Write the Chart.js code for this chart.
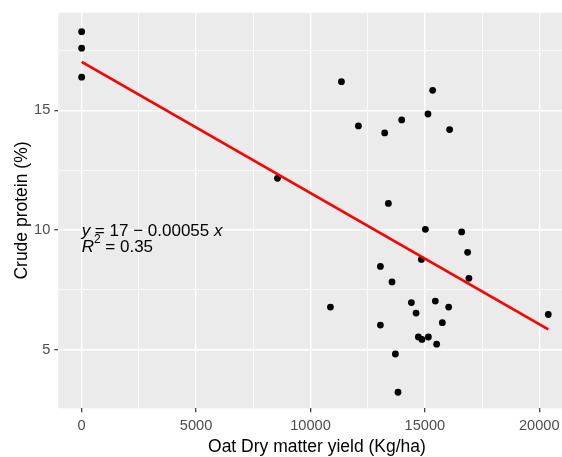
<!DOCTYPE html>
<html lang="en">
<head>
  <meta charset="UTF-8" />
  <title>Crude protein vs oat dry matter yield</title>
  <script src="https://cdn.jsdelivr.net/npm/chart.js"></script>
  <style>
    html, body { margin: 0; padding: 0; background: white; overflow: hidden; }
    .wrap { width: 562px; height: 457px; overflow: hidden; position: relative; }
    canvas { display: block; }
  </style>
</head>
<body>
  <div class="wrap">
    <canvas id="chart" width="578" height="457"></canvas>
  </div>
  <script>
    // Oat dry matter yield (Kg/ha) and crude protein (%)
    const yieldKgHa = [0, 0, 0, 8559, 11354, 15341, 12096, 13245, 13987, 15135, 16083,
      13406, 15022, 16607, 16869, 14847, 13057, 13564, 16926, 10873, 14410, 15458,
      16040, 14616, 15764, 13057, 20393, 14716, 14873, 15153, 15515, 13712, 13826];
    const crudeProtein = [18.29, 17.6, 16.39, 12.16, 16.2, 15.84, 14.35, 14.06, 14.6, 14.85, 14.2,
      11.11, 10.03, 9.92, 9.07, 8.77, 8.48, 7.83, 7.98, 6.78, 6.97, 7.03,
      6.78, 6.53, 6.13, 6.03, 6.47, 5.53, 5.43, 5.53, 5.23, 4.82, 3.22];

    // fitted line end points (lm)
    const fitX = [0, 20393];
    const fitY = [17.03, 5.85];

    const xGrid = [0, 2500, 5000, 7500, 10000, 12500, 15000, 17500, 20000];
    const xLabels = [0, 5000, 10000, 15000, 20000];
    const yGrid = [5, 7.5, 10, 12.5, 15, 17.5];
    const yLabels = [5, 10, 15];

    const points = yieldKgHa.map((x, i) => ({ x: x, y: crudeProtein[i] }));
    const fitLine = fitX.map((x, i) => ({ x: x, y: fitY[i] }));

    const FONT = "'Liberation Sans', Arial, sans-serif";

    const panelBg = {
      id: 'panelBg',
      beforeDraw(chart) {
        const a = chart.chartArea, c = chart.ctx;
        c.save();
        c.fillStyle = '#ebebeb';
        c.fillRect(a.left, a.top, a.right - a.left, a.bottom - a.top);
        c.restore();
      }
    };

    const labels = {
      id: 'labels',
      afterDraw(chart) {
        const a = chart.chartArea, c = chart.ctx;
        c.save();
        c.fillStyle = '#000';
        // axis titles
        c.font = '17.5px ' + FONT;
        c.textAlign = 'center';
        c.textBaseline = 'alphabetic';
        c.fillText('Oat Dry matter yield (Kg/ha)', (a.left + a.right) / 2 + 2, 451.5);
        c.save();
        c.translate(27, (a.top + a.bottom) / 2);
        c.rotate(-Math.PI / 2);
        c.fillText('Crude protein (%)', 0, 0);
        c.restore();

        // equation label
        c.textAlign = 'left';
        const x0 = chart.scales.x.getPixelForValue(0);
        let x = x0;
        const put = (txt, italic, size, dy) => {
          c.font = (italic ? 'italic ' : '') + (size || 17) + 'px ' + FONT;
          c.fillText(txt, x, 235.5 + (dy || 0));
          x += c.measureText(txt).width;
        };
        put('y', true);
        put(' = 17 \u2212 0.00055 ', false);
        put('x', true);
        x = x0;
        put('R', true, 17, 16);
        put('2', false, 12, 7);
        put(' = 0.35', false, 17, 16);
        c.restore();
      }
    };

    function gridScale(grid, major, min, max) {
      return {
        type: 'linear',
        min: min,
        max: max,
        border: { display: false },
        afterBuildTicks: s => { s.ticks = grid.map(v => ({ value: v })); },
        grid: {
          color: '#ffffff',
          lineWidth: ctx => major.includes(ctx.tick && ctx.tick.value) ? 1.4 : 0.7,
          tickColor: ctx => major.includes(ctx.tick && ctx.tick.value) ? '#333333' : 'rgba(0,0,0,0)',
          tickWidth: 1.2,
          tickLength: 4
        },
        ticks: {
          autoSkip: false,
          maxRotation: 0,
          color: '#4d4d4d',
          font: { family: FONT, size: 14.6 },
          callback: v => major.includes(v) ? String(v) : ''
        }
      };
    }

    const xScale = gridScale(xGrid, xLabels, -1020, 21413);
    xScale.ticks.padding = 5;
    xScale.afterFit = s => { s.height = 48.7; };
    const yScale = gridScale(yGrid, yLabels, 2.55, 19.08);
    yScale.ticks.padding = 4;
    yScale.afterFit = s => { s.width = 58.3; };

    new Chart(document.getElementById('chart'), {
      type: 'scatter',
      data: {
        datasets: [
          {
            label: 'fit',
            data: fitLine,
            showLine: true,
            borderColor: '#ff0000',
            borderWidth: 2.7,
            pointRadius: 0,
            order: 0
          },
          {
            label: 'samples',
            data: points,
            backgroundColor: '#000000',
            borderColor: '#000000',
            pointRadius: 3.4,
            borderWidth: 0,
            order: 1
          }
        ]
      },
      options: {
        responsive: false,
        animation: false,
        devicePixelRatio: 1,
        layout: { padding: { top: 10, right: 6.4, left: 0, bottom: 0 } },
        plugins: { legend: { display: false }, tooltip: { enabled: false } },
        scales: { x: xScale, y: yScale }
      },
      plugins: [panelBg, labels]
    });
  </script>
</body>
</html>
